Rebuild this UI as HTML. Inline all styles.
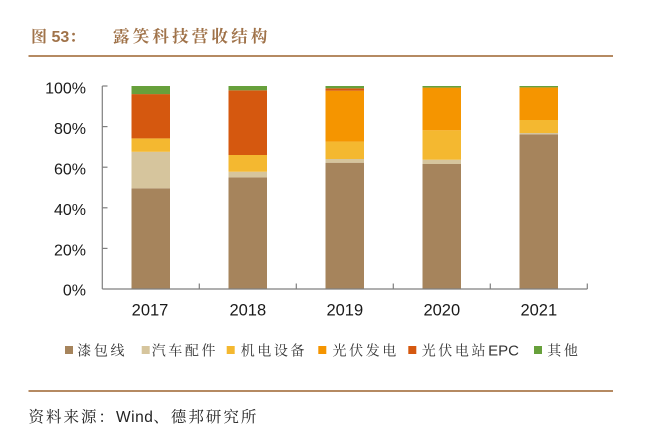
<!DOCTYPE html>
<html>
<head>
<meta charset="utf-8">
<style>
  html, body { margin: 0; padding: 0; background: #ffffff; }
  body { width: 668px; height: 439px; overflow: hidden; position: relative; }
  svg { position: absolute; left: 0; top: 0; }
</style>
</head>
<body>
<svg width="668" height="439" viewBox="0 0 668 439" xmlns="http://www.w3.org/2000/svg">
  <!-- Title -->
  <text x="31" y="42" font-family="'Liberation Sans','Noto Serif CJK SC',serif" font-weight="bold" font-size="16" fill="#a0734a">图 53：</text>
  <text x="113" y="42" font-family="'Noto Serif CJK SC',serif" font-weight="bold" font-size="16.5" letter-spacing="3.2" fill="#a0734a">露笑科技营收结构</text>
  <line x1="28.5" y1="56" x2="613" y2="56" stroke="#b58a62" stroke-width="2"/>

  <!-- Bars -->
  <g>
    <rect x="131.5" y="188.3" width="38.5" height="100.7" fill="#a6845c"/>
    <rect x="131.5" y="151.8" width="38.5" height="36.5" fill="#d6c59d"/>
    <rect x="131.5" y="138.4" width="38.5" height="13.4" fill="#f4b830"/>
    <rect x="131.5" y="94.1" width="38.5" height="44.3" fill="#d5580f"/>
    <rect x="131.5" y="86" width="38.5" height="8.1" fill="#67a03b"/>
  </g>
  <g>
    <rect x="228.5" y="177.3" width="38.5" height="111.7" fill="#a6845c"/>
    <rect x="228.5" y="171.7" width="38.5" height="5.6" fill="#d6c59d"/>
    <rect x="228.5" y="155" width="38.5" height="16.7" fill="#f4b830"/>
    <rect x="228.5" y="90.3" width="38.5" height="64.7" fill="#d5580f"/>
    <rect x="228.5" y="86" width="38.5" height="4.3" fill="#67a03b"/>
  </g>
  <g>
    <rect x="325.5" y="162.7" width="38.5" height="126.3" fill="#a6845c"/>
    <rect x="325.5" y="159" width="38.5" height="3.7" fill="#d6c59d"/>
    <rect x="325.5" y="141.6" width="38.5" height="17.4" fill="#f4b830"/>
    <rect x="325.5" y="90.7" width="38.5" height="50.9" fill="#f59500"/>
    <rect x="325.5" y="88.3" width="38.5" height="2.4" fill="#d5580f"/>
    <rect x="325.5" y="86" width="38.5" height="2.3" fill="#67a03b"/>
  </g>
  <g>
    <rect x="422.5" y="164" width="38.5" height="125" fill="#a6845c"/>
    <rect x="422.5" y="159.7" width="38.5" height="4.3" fill="#d6c59d"/>
    <rect x="422.5" y="130.3" width="38.5" height="29.4" fill="#f4b830"/>
    <rect x="422.5" y="87.6" width="38.5" height="42.7" fill="#f59500"/>
    <rect x="422.5" y="86" width="38.5" height="1.6" fill="#67a03b"/>
  </g>
  <g>
    <rect x="519.5" y="134.3" width="38.5" height="154.7" fill="#a6845c"/>
    <rect x="519.5" y="133" width="38.5" height="1.3" fill="#d6c59d"/>
    <rect x="519.5" y="120" width="38.5" height="13" fill="#f4b830"/>
    <rect x="519.5" y="87.4" width="38.5" height="32.6" fill="#f59500"/>
    <rect x="519.5" y="86" width="38.5" height="1.4" fill="#67a03b"/>
  </g>

  <!-- Axes -->
  <g stroke="#7f7f7f" stroke-width="1.2" fill="none">
    <line x1="102.3" y1="86" x2="102.3" y2="289"/>
    <line x1="102.3" y1="289" x2="587.3" y2="289"/>
    <line x1="102.3" y1="86" x2="107.5" y2="86"/>
    <line x1="102.3" y1="126.6" x2="107.5" y2="126.6"/>
    <line x1="102.3" y1="167.2" x2="107.5" y2="167.2"/>
    <line x1="102.3" y1="207.8" x2="107.5" y2="207.8"/>
    <line x1="102.3" y1="248.4" x2="107.5" y2="248.4"/>
    <line x1="199.3" y1="289" x2="199.3" y2="283.5"/>
    <line x1="296.3" y1="289" x2="296.3" y2="283.5"/>
    <line x1="393.3" y1="289" x2="393.3" y2="283.5"/>
    <line x1="490.3" y1="289" x2="490.3" y2="283.5"/>
    <line x1="587.3" y1="289" x2="587.3" y2="283.5"/>
  </g>

  <!-- Y tick labels -->
  <g font-family="'Liberation Sans',Arial,sans-serif" font-size="16" fill="#1a1a1a" text-anchor="end">
    <text x="86" y="93.3">100%</text>
    <text x="86" y="133.9">80%</text>
    <text x="86" y="174.5">60%</text>
    <text x="86" y="215.1">40%</text>
    <text x="86" y="255.7">20%</text>
    <text x="86" y="295.3">0%</text>
  </g>

  <!-- X labels -->
  <g font-family="'Liberation Sans',Arial,sans-serif" font-size="16.5" fill="#1a1a1a" text-anchor="middle">
    <text x="150" y="315.3">2017</text>
    <text x="247.8" y="315.3">2018</text>
    <text x="344.8" y="315.3">2019</text>
    <text x="441.8" y="315.3">2020</text>
    <text x="538.8" y="315.3">2021</text>
  </g>

  <!-- Legend -->
  <g font-family="'Liberation Sans','Noto Serif CJK SC',serif" font-size="14" fill="#333333" letter-spacing="2.6">
    <rect x="65" y="346" width="8" height="8" fill="#a6845c"/>
    <text x="77.3" y="355.5">漆包线</text>
    <rect x="141.7" y="346" width="8" height="8" fill="#d6c59d"/>
    <text x="151.7" y="355.5">汽车配件</text>
    <rect x="226.7" y="346" width="8" height="8" fill="#f4b830"/>
    <text x="240.7" y="355.5">机电设备</text>
    <rect x="318.3" y="346" width="8" height="8" fill="#f59500"/>
    <text x="332.5" y="355.5">光伏发电</text>
    <rect x="408.3" y="346" width="8" height="8" fill="#d5580f"/>
    <text x="421.7" y="355.5">光伏电站<tspan letter-spacing="0" font-size="15">EPC</tspan></text>
    <rect x="534" y="346" width="8" height="8" fill="#67a03b"/>
    <text x="547.3" y="355.5">其他</text>
  </g>

  <!-- Bottom rule and source -->
  <line x1="28.5" y1="391" x2="613" y2="391" stroke="#b58a62" stroke-width="2"/>
  <text x="28.5" y="422" font-family="'Liberation Sans','Noto Serif CJK SC',serif" font-size="15.5" fill="#222222" letter-spacing="2">资料来源：<tspan letter-spacing="0.5">Wind</tspan>、德邦研究所</text>
</svg>
</body>
</html>
